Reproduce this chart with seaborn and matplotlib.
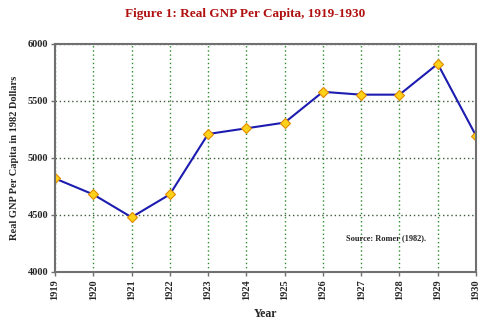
import matplotlib
matplotlib.use("Agg")
import matplotlib.pyplot as plt
import seaborn as sns
import pandas as pd

years = [1919, 1920, 1921, 1922, 1923, 1924, 1925, 1926, 1927, 1928, 1929, 1930]
gnp = [4820, 4680, 4480, 4680, 5210, 5260, 5310, 5580, 5555, 5555, 5825, 5195]
y_ticks = [4000, 4500, 5000, 5500, 6000]

sns.set_theme(style="white")
plt.rcParams['font.family'] = ['Liberation Serif', 'DejaVu Serif']

df = pd.DataFrame({"Year": years, "GNP": gnp})

fig = plt.figure(figsize=(5, 3.23), dpi=100)
ax = fig.add_axes([0.11, 0.158, 0.842, 0.706])

sns.lineplot(data=df, x="Year", y="GNP", ax=ax, color="#1c1cb0", linewidth=1.5,
             marker="D", markersize=5.5, markerfacecolor="#ffd21a",
             markeredgecolor="#e08a00", markeredgewidth=0.8)

ax.set_xlim(years[0], years[-1])
ax.set_ylim(y_ticks[0], y_ticks[-1])
ax.set_xticks(years)
ax.set_xticklabels([str(y) for y in years], rotation=90, fontsize=7.5, fontweight="bold")
ax.set_yticks(y_ticks)
ax.set_yticklabels([str(v) for v in y_ticks], fontsize=7.5, fontweight="bold")

ax.xaxis.grid(True, color="#2e8b2e", linestyle=(0, (1, 2)), linewidth=1.0)
ax.yaxis.grid(True, color="#3d5a3d", linestyle=(0, (1, 2)), linewidth=1.0)
ax.set_axisbelow(True)

for s in ax.spines.values():
    s.set_color("#707070")
    s.set_linewidth(1.5)
ax.tick_params(axis="both", length=3, width=1, color="#707070", pad=2, direction="out", bottom=True, left=True)

ax.set_xlabel("Year", fontsize=8.5, fontweight="bold", labelpad=6)
ax.set_ylabel("Real GNP Per Capita in 1982 Dollars", fontsize=7.5, fontweight="bold", labelpad=6)
fig.suptitle("Figure 1: Real GNP Per Capita, 1919-1930", x=0.49, y=0.975,
             fontsize=9.5, fontweight="bold", color="#b01010")
ax.text(1926.6, 4280, "Source: Romer (1982).", fontsize=6, fontweight="bold")

fig.savefig("out.png", dpi=100)
